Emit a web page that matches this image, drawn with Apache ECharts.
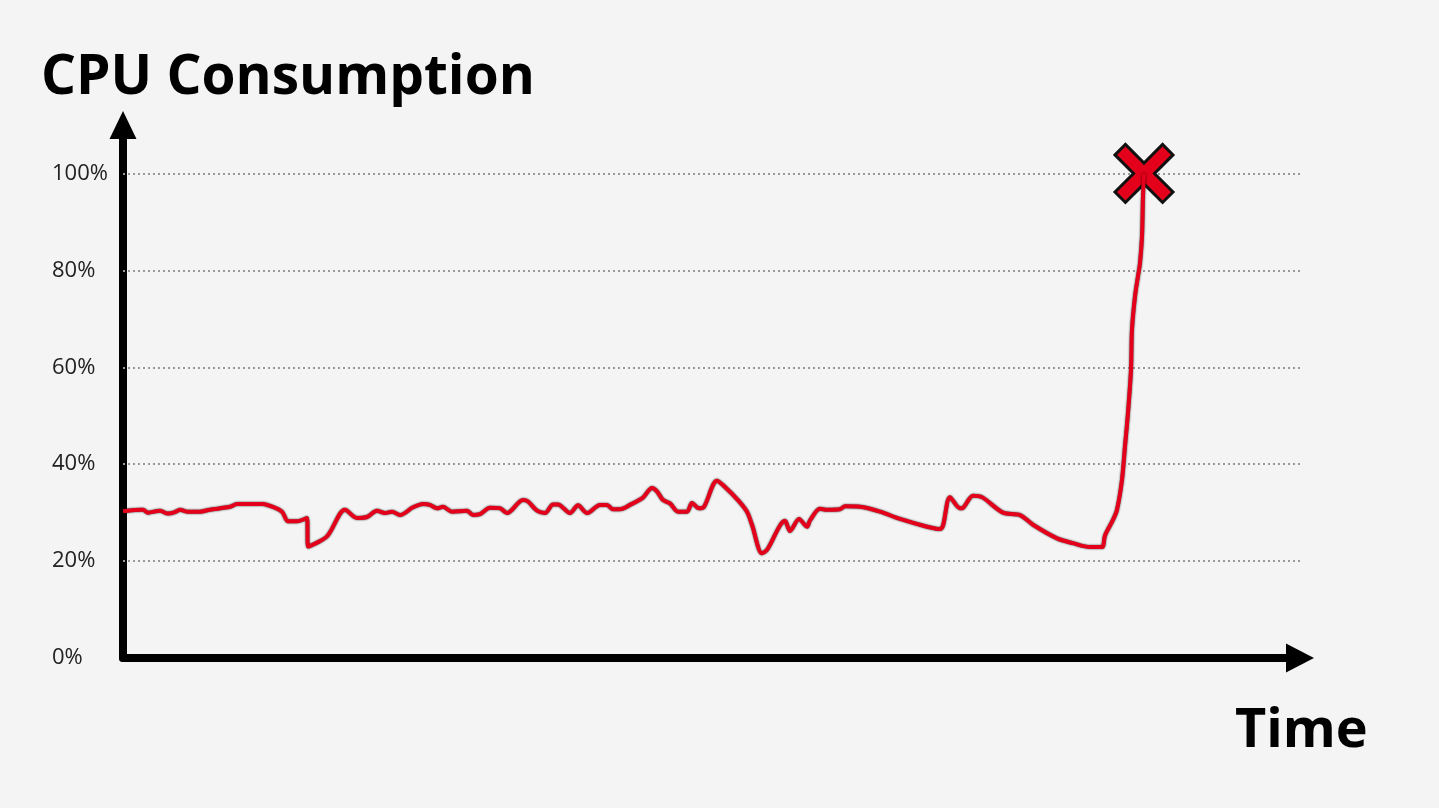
<!DOCTYPE html>
<html>
<head>
<meta charset="utf-8">
<script src="https://cdn.jsdelivr.net/npm/echarts@6/dist/echarts.min.js"></script>
<style>
html,body{margin:0;padding:0;background:#f4f4f4;}
#c{width:1439px;height:808px;}
</style>
</head>
<body>
<div id="c"></div>
<script>
// time (arbitrary units) and CPU %
const times = [0,20,25,37,45,52,57,64,77,87,107,114,140,147,159,165,174,184,185,204,222,234,244,254,262,269,277,290,300,307,314,320,329,344,350,357,367,377,384,400,405,414,422,430,435,447,455,464,477,484,490,497,507,520,529,534,540,547,555,564,569,576,581,594,602,614,624,629,639,644,662,667,676,684,687,697,704,717,722,737,757,777,804,817,820,827,837,840,850,859,880,897,910,934,950,967,979,982,990,994,999,1002,1005,1008,1009,1012,1015,1017,1019,1020,1021];
const cpu = [30.3,30.6,30.0,30.4,29.8,30.1,30.6,30.2,30.2,30.6,31.2,31.8,31.8,31.4,30.2,28.2,28.2,28.9,23.0,25.1,30.6,28.9,29.1,30.4,29.9,30.2,29.5,31.1,31.8,31.6,30.9,31.2,30.2,30.4,29.5,29.7,31.0,30.9,29.9,32.6,32.3,30.4,29.9,31.7,31.7,29.9,31.5,29.9,31.6,31.6,30.7,30.7,31.6,33.1,35.1,34.4,32.6,31.9,30.2,30.2,32.0,30.9,31.2,36.6,35.3,32.8,30.2,27.5,21.6,22.3,28.3,26.2,28.7,27.1,28.4,30.8,30.6,30.7,31.3,31.2,30.2,28.7,27.1,26.6,27.3,33.2,30.9,31.0,33.5,33.2,30.0,29.5,27.5,24.7,23.7,22.9,22.9,25.3,28.5,30.6,36.8,43.7,50.6,59.5,67.8,74.6,78.8,81.5,87.0,95.3,100];
const yTicks = [0,20,40,60,80,100];
const gridValues = [20,40,60,80,100];
const failTime = 1021, failValue = 100;

const seriesData = times.map((t,i)=>[t,cpu[i]]);
const xPath = 'path://M0,18 L18,0 L50,32 L82,0 L100,18 L68,50 L100,82 L82,100 L50,68 L18,100 L0,82 L32,50 Z';

const chart = echarts.init(document.getElementById('c'));
chart.setOption({
  backgroundColor:'#f4f4f4',
  animation:false,
  title:[
    {text:'CPU Consumption', left:36, top:46, textStyle:{fontFamily:'Open Sans', fontWeight:'bold', fontSize:55, color:'#000'}},
    {text:'Time', left:1230, top:700, textStyle:{fontFamily:'Open Sans', fontWeight:'bold', fontSize:54, color:'#000'}}
  ],
  grid:{left:123, right:139, top:125, bottom:150},
  xAxis:{
    type:'value', min:0, max:1177,
    axisLine:{show:true, symbol:['none','triangle'], symbolSize:[29,28], lineStyle:{color:'#000', width:8}},
    axisTick:{show:false}, axisLabel:{show:false}, splitLine:{show:false}
  },
  yAxis:{
    type:'value', min:0, max:110, interval:20,
    axisLine:{show:true, symbol:['none','triangle'], symbolSize:[27,28], lineStyle:{color:'#000', width:8}},
    axisTick:{show:false},
    axisLabel:{margin:71, align:'left', fontFamily:'Open Sans', fontSize:22, color:'#222',
      formatter:v=> yTicks.indexOf(v)>=0 ? v+'%' : ''},
    splitLine:{show:false}
  },
  series:[{
    type:'line', data:seriesData, showSymbol:false, smooth:0.3, z:5,
    lineStyle:{color:'#e4001b', width:4, shadowColor:'rgba(0,0,0,0.8)', shadowBlur:2},
    markLine:{
      silent:true, symbol:['none','none'], label:{show:false},
      lineStyle:{color:'#999', type:[2,3], width:2},
      data: gridValues.map(v=>({yAxis:v}))
    },
    markPoint:{
      silent:true, symbol:xPath, symbolSize:58,
      itemStyle:{color:'#e4001b', borderColor:'#111', borderWidth:3},
      label:{show:false},
      data:[{coord:[failTime,failValue]}]
    }
  }]
});
</script>
</body>
</html>
